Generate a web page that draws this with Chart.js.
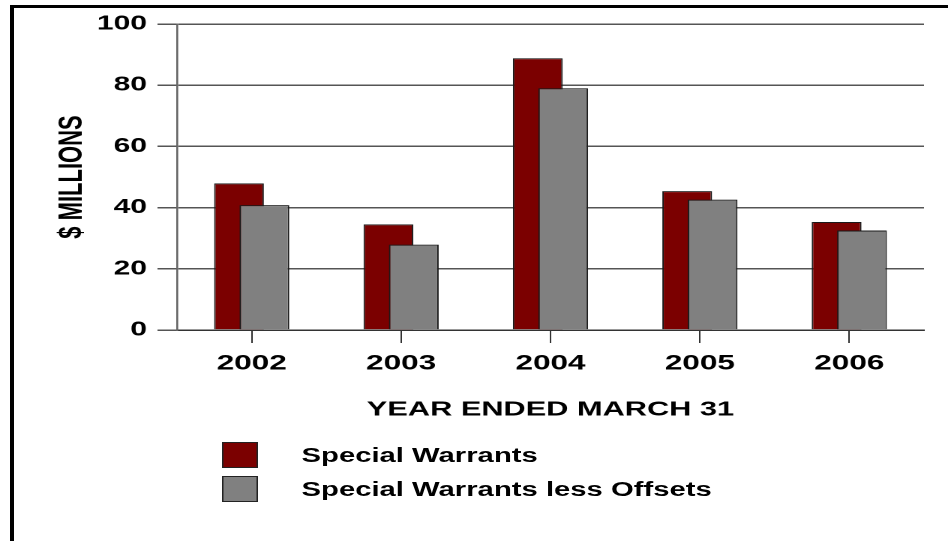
<!DOCTYPE html>
<html lang="en">
<head>
<meta charset="UTF-8">
<title>Special Warrants</title>
<script src="https://cdn.jsdelivr.net/npm/chart.js"></script>
<style>
    body {
        margin: 0;
        width: 948px;
        height: 541px;
        overflow: hidden;
        background: #fff;
        font-family: "Liberation Sans", Arial, sans-serif;
    }
    .frame {
        position: absolute;
        left: 10px;
        top: 5px;
        right: -10px;
        bottom: -10px;
        border-left: 4px solid #000;
        border-top: 3px solid #000;
    }
    /* the original is drawn narrow and stretched sideways, so we do the same */
    .stretch {
        position: absolute;
        left: 0;
        top: 0;
        width: 632px;
        height: 541px;
        transform: scaleX(1.5);
        transform-origin: 0 0;
    }
    #chart {
        position: absolute;
        left: 0;
        top: 0;
    }
    .legend {
        position: absolute;
        left: 148px;
        top: 438px;
    }
    .legend .item {
        display: flex;
        align-items: center;
        height: 34px;
        font-size: 19.5px;
        font-weight: bold;
        color: #000;
    }
    .legend .box {
        width: 24px;
        height: 26px;
        border: 1px solid #222;
        box-sizing: border-box;
        margin-right: 29px;
    }
</style>
</head>
<body>

<div class="frame"></div>
<div class="stretch">
    <canvas id="chart" width="632" height="440"></canvas>
    <div class="legend" id="legend"></div>
</div>

<script>
const years = ['2002', '2003', '2004', '2005', '2006'];
const specialWarrants = [47.9, 34.5, 88.8, 45.4, 35.3];
const lessOffsets = [40.8, 27.9, 79.0, 42.6, 32.5];
const seriesNames = ['Special Warrants', 'Special Warrants less Offsets'];
const seriesColors = ['#7B0000', '#808080'];
const yTicks = [0, 20, 40, 60, 80, 100];

const fontFamily = '"Liberation Sans", Arial, sans-serif';

// legend as plain html under the plot
const legend = document.getElementById('legend');
seriesNames.forEach((name, i) => {
    const row = document.createElement('div');
    row.className = 'item';
    row.innerHTML = `<span class="box" style="background:${seriesColors[i]}"></span>${name}`;
    legend.appendChild(row);
});

// chart.js paints the first dataset on top; here the grey one has to sit in front
const paintInOrder = {
    id: 'paintInOrder',
    beforeDatasetsDraw(chart) {
        chart.data.datasets.forEach((d, i) => chart.getDatasetMeta(i).controller.draw());
        return false;
    }
};

new Chart(document.getElementById('chart'), {
    type: 'bar',
    data: {
        labels: years,
        datasets: [
            {
                label: seriesNames[0],
                data: specialWarrants,
                backgroundColor: seriesColors[0],
                borderColor: '#1a1a1a',
                borderWidth: 1,
                categoryPercentage: 0.34,
                barPercentage: 1.96
            },
            {
                label: seriesNames[1],
                data: lessOffsets,
                backgroundColor: seriesColors[1],
                borderColor: '#1a1a1a',
                borderWidth: 1,
                categoryPercentage: 0.34,
                barPercentage: 1.96
            }
        ]
    },
    plugins: [paintInOrder],
    options: {
        responsive: false,
        animation: false,
        devicePixelRatio: 2,
        layout: { padding: { left: 0, right: 16, top: 24, bottom: 10 } },
        plugins: {
            legend: { display: false },
            tooltip: { enabled: false }
        },
        scales: {
            x: {
                offset: true,
                afterFit: s => { s.height = 100; },
                grid: {
                    offset: false,
                    drawOnChartArea: false,
                    drawTicks: true,
                    tickLength: 13,
                    color: '#333',
                    lineWidth: 1
                },
                border: { display: true, color: '#333', width: 1.5 },
                ticks: {
                    color: '#000',
                    padding: 8,
                    font: { family: fontFamily, size: 21, weight: 'bold' }
                },
                title: {
                    display: true,
                    text: 'YEAR ENDED MARCH 31',
                    color: '#000',
                    padding: { top: 0, bottom: 8 },
                    font: { family: fontFamily, size: 20.5, weight: 'bold' }
                }
            },
            y: {
                min: 0,
                max: 100,
                afterFit: s => { s.width = 118; },
                afterBuildTicks: s => { s.ticks = yTicks.map(v => ({ value: v })); },
                grid: {
                    color: '#555',
                    lineWidth: 1.5,
                    drawTicks: true,
                    tickLength: 13,
                    tickColor: '#555'
                },
                border: { display: true, color: '#666', width: 1.3 },
                ticks: {
                    color: '#000',
                    padding: 7,
                    font: { family: fontFamily, size: 20, weight: 'bold' }
                },
                title: {
                    display: true,
                    text: '$ MILLIONS',
                    color: '#000',
                    padding: { top: 35, bottom: 0 },
                    font: { family: fontFamily, size: 22, weight: 'bold' }
                }
            }
        }
    }
});
</script>

</body>
</html>
